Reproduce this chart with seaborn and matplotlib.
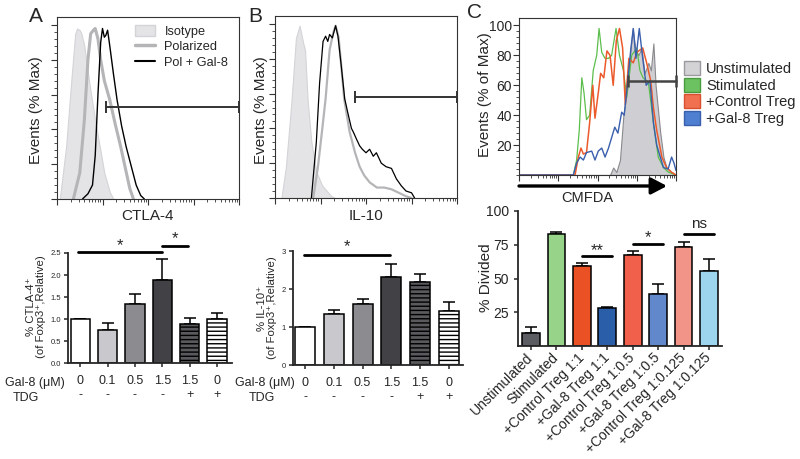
import numpy as np
import seaborn as sns
from matplotlib import pyplot as plt
from matplotlib.lines import Line2D
from matplotlib.patches import Patch

# ---- flow histograms: x in % of axis width (log scale), y in % of max ----
A_ISO_X = [1.5, 5, 8, 10, 11, 12.5, 13.4, 15, 18, 21, 23.5, 26, 29, 31]
A_ISO_Y = [0, 30, 70, 95, 98, 97, 95, 88, 65, 45, 30, 15, 4, 0]
A_POL_X = [9, 12.5, 15, 17, 18.5, 20, 21, 22.5, 24, 26, 29, 32, 35, 37.5, 40, 42]
A_POL_Y = [0, 15, 45, 80, 95, 97, 98, 92, 80, 68, 57, 43, 30, 18, 6, 0]
A_GAL_X = [14, 17, 19.5, 21, 22.5, 24, 25, 26, 26.8, 27.8, 29, 31, 33, 35.5, 38, 41, 43.5, 46, 48]
A_GAL_Y = [0, 3, 8, 25, 60, 90, 98, 93, 94, 97, 88, 72, 57, 42, 30, 18, 8, 2, 0]
A_GATE = (27, 100, 53)

B_ISO_X = [3.5, 6, 9, 11.5, 13.5, 15.5, 16.5, 18, 20, 22.7, 26, 31, 33]
B_ISO_Y = [0, 18, 55, 92, 99, 89, 85, 55, 32, 15, 7, 1, 0]
B_POL_X = [21, 23.6, 26, 27.8, 30, 32, 33.3, 35, 36.5, 38, 41, 44, 46.5, 49, 52, 56, 60, 64, 68, 72, 75]
B_POL_Y = [0, 18, 40, 57, 85, 95, 99, 92, 75, 57, 38, 26, 18, 13, 9, 6, 6, 5, 3, 1, 0]
B_GAL_X = [20, 22.7, 24.5, 26.4, 27.8, 29, 30, 31.5, 33.3, 34.6, 36.4, 38.3, 40, 42, 43, 44.7,
           46.5, 48, 50, 52, 54, 55.7, 58.4, 61, 64, 66.7, 69.4, 72, 75, 76.7]
B_GAL_Y = [0, 32, 66, 90, 93, 90, 94, 92, 99, 93, 76, 57, 49, 40, 38, 34,
           30, 28, 26, 28, 24, 26, 20, 18, 17, 11, 7, 4, 3, 0]
B_GATE = (44, 100, 58)

C_UNS_X = [0, 58, 60, 62, 64.3, 66.5, 68.6, 70.7, 72.4, 74, 76, 78, 80, 82.4, 84, 85.6, 87, 90, 92, 94, 97, 100]
C_UNS_Y = [0, 0, 5, 2, 10, 40, 55, 80, 98, 85, 80, 85, 68, 75, 70, 88, 60, 28, 12, 5, 2, 0]
C_STI_X = [0, 34.6, 36.7, 38.4, 40, 41.4, 43, 45, 47.3, 49.5, 51, 52.7, 54.8, 57, 59, 61.8, 64,
           66.5, 68.6, 71.8, 75, 77, 79, 82.4, 85.6, 88.7, 92, 95, 100]
C_STI_Y = [0, 0, 10, 30, 65, 55, 37, 40, 70, 80, 98, 82, 78, 78, 80, 98, 80,
           70, 52, 80, 85, 70, 65, 62, 35, 12, 5, 2, 0]
C_CON_X = [0, 35.7, 37.8, 39.5, 41, 43, 45, 47, 48.4, 50.5, 52, 54, 56, 58, 60, 62, 64, 66,
           67.7, 70, 72.8, 75, 78.8, 81.3, 83.9, 85.6, 87.7, 91, 94, 97, 100]
C_CON_Y = [0, 0, 12, 18, 14, 15, 35, 60, 38, 55, 68, 65, 83, 80, 60, 90, 98, 85,
           47, 78, 75, 82, 85, 75, 63, 45, 30, 12, 5, 2, 0]
C_GAL_X = [0, 34.6, 36.7, 38.9, 41, 43, 46.3, 48.4, 50.5, 52.7, 54.8, 57, 59, 61, 63, 65.4, 67,
           69, 71.3, 72.8, 74.5, 76.6, 78.8, 81, 83.4, 85.6, 87.7, 90, 92, 95, 97.2, 98.7, 100]
C_GAL_Y = [0, 0, 8, 12, 10, 15, 16, 10, 16, 18, 12, 18, 25, 32, 28, 42, 40,
           60, 85, 98, 78, 98, 78, 60, 63, 35, 20, 12, 5, 4, 12, 8, 3]
C_GATE = (69.6, 100, 63)

# ---- bar charts ----
A_LABELS = ["0\n-", "0.1\n-", "0.5\n-", "1.5\n-", "1.5\n+", "0\n+"]
A_VALUES = [1.0, 0.75, 1.34, 1.89, 0.88, 1.0]
A_SEM = [0.0, 0.17, 0.23, 0.47, 0.14, 0.13]
B_VALUES = [1.0, 1.33, 1.60, 2.32, 2.19, 1.43]
B_SEM = [0.0, 0.12, 0.15, 0.33, 0.20, 0.24]
AB_COLORS = ["white", "#c9c9cd", "#8c8c90", "#424246", "#5a5a5e", "white"]

C_LABELS = ["Unstimulated", "Stimulated", "+Control Treg 1:1", "+Gal-8 Treg 1:1",
            "+Control Treg 1:0.5", "+Gal-8 Treg 1:0.5", "+Control Treg 1:0.125", "+Gal-8 Treg 1:0.125"]
C_VALUES = [9.9, 82.7, 59.3, 28.4, 67.4, 38.5, 73.1, 55.6]
C_SEM = [3.9, 1.5, 1.9, 0.4, 3.0, 7.4, 4.2, 8.6]
C_COLORS = ["#5b5d62", "#98d38a", "#ea5124", "#2b5ea8", "#f0604a", "#6288cc", "#f29488", "#9dd5ee"]

W, H = 800, 459


def fx(x, y):
    return x / W, 1 - y / H


def axes_box(left, top, right, bottom):
    return [left / W, 1 - bottom / H, (right - left) / W, (bottom - top) / H]


def style_hist(ax, ytop):
    ax.set_xlim(0, 100)
    ax.set_ylim(0, ytop)
    for s in ax.spines.values():
        s.set_visible(True)
        s.set_linewidth(0.8)
        s.set_color("#333333")
    major = [0, 25, 50, 75, 100]
    minor = [d * 25 + 25 * np.log10(k) for d in range(4) for k in range(2, 10)]
    ax.set_xticks(major)
    ax.set_xticks(minor, minor=True)
    ax.set_xticklabels([])
    ax.set_yticks(range(0, 101, 20))
    ax.set_yticks(range(0, 101, 4), minor=True)
    ax.set_yticklabels([])
    ax.tick_params(which="major", length=4, width=0.8, color="#333333")
    ax.tick_params(which="minor", length=2, width=0.6, color="#333333")
    ax.set_xlabel("")
    ax.set_ylabel("")


def gate(ax, g, lw=1.4, color="#333333"):
    ax.plot([g[0], g[1]], [g[2], g[2]], color=color, lw=lw, marker="|",
            markersize=8, markeredgewidth=lw, clip_on=False, zorder=5)


def bars(ax, labels, values, sem, colors):
    sns.barplot(x=labels, y=values, hue=labels, palette=colors, legend=False,
                width=0.7, edgecolor="black", linewidth=1.1, saturation=1, ax=ax, zorder=2)
    ax.errorbar(range(len(values)), values, yerr=[np.zeros(len(values)), sem], fmt="none",
                ecolor="black", elinewidth=1.1, capsize=4, capthick=1.1, zorder=1)
    sns.despine(ax=ax)
    for s in ("left", "bottom"):
        ax.spines[s].set_linewidth(1.3)
    ax.tick_params(length=3, width=1.1)
    ax.set_xlabel("")
    ax.set_ylabel("")


def sig(ax, i, j, y, text, ty, size=12):
    ax.plot([i, j], [y, y], color="black", lw=2, clip_on=False)
    ax.text((i + j) / 2, ty, text, ha="center", va="center", fontsize=size, clip_on=False)


def main():
    sns.set_style("ticks")
    plt.rcParams["font.family"] = ["Liberation Sans", "DejaVu Sans"]
    plt.rcParams["hatch.linewidth"] = 1.0
    fig = plt.figure(figsize=(8, 4.59), dpi=100)

    iso_face, iso_edge = "#e4e4e7", "#d4d4d8"
    pol_color = "#b5b5b8"

    # ---- A histogram ----
    ax = fig.add_axes(axes_box(57, 17, 239, 199))
    ax.fill_between(A_ISO_X, A_ISO_Y, color=iso_face, edgecolor=iso_edge, lw=0.8)
    sns.lineplot(x=A_POL_X, y=A_POL_Y, color=pol_color, lw=2.2, sort=False, estimator=None, ax=ax)
    sns.lineplot(x=A_GAL_X, y=A_GAL_Y, color="black", lw=1.0, sort=False, estimator=None, ax=ax)
    gate(ax, A_GATE)
    style_hist(ax, 104.6)
    handles = [Patch(facecolor=iso_face, edgecolor=iso_edge),
               Line2D([], [], color=pol_color, lw=2.5),
               Line2D([], [], color="black", lw=1.5)]
    ax.legend(handles, ["Isotype", "Polarized", "Pol + Gal-8"], loc="upper left",
              bbox_to_anchor=fx(135, 25), bbox_transform=fig.transFigure, frameon=False,
              fontsize=9.2, handlelength=1.6, handleheight=1.0, handletextpad=0.7,
              labelspacing=0.17, borderpad=0, borderaxespad=0)
    fig.text(*fx(36, 17), "A", fontsize=15, ha="center", va="center")
    fig.text(*fx(148, 216), "CTLA-4", fontsize=11, ha="center", va="center")
    fig.text(*fx(36, 110), "Events (% Max)", fontsize=11, ha="center", va="center", rotation=90)

    # ---- B histogram ----
    ax = fig.add_axes(axes_box(275, 16, 457, 198))
    ax.fill_between(B_ISO_X, B_ISO_Y, color=iso_face, edgecolor=iso_edge, lw=0.8)
    sns.lineplot(x=B_POL_X, y=B_POL_Y, color=pol_color, lw=1.6, sort=False, estimator=None, ax=ax)
    sns.lineplot(x=B_GAL_X, y=B_GAL_Y, color="black", lw=0.9, sort=False, estimator=None, ax=ax)
    gate(ax, B_GATE)
    style_hist(ax, 104.6)
    fig.text(*fx(255, 17), "B", fontsize=15, ha="center", va="center")
    fig.text(*fx(366, 216), "IL-10", fontsize=11, ha="center", va="center")
    fig.text(*fx(261, 110), "Events (% Max)", fontsize=11, ha="center", va="center", rotation=90)

    # ---- C histogram ----
    ax = fig.add_axes(axes_box(519, 18, 676, 175))
    ax.fill_between(C_UNS_X, C_UNS_Y, color="#cfcfd3", edgecolor="#8a8a8e", lw=0.8)
    sns.lineplot(x=C_STI_X, y=C_STI_Y, color="#5cbf4c", lw=0.9, sort=False, estimator=None, ax=ax)
    sns.lineplot(x=C_CON_X, y=C_CON_Y, color="#ec5a2c", lw=1.1, sort=False, estimator=None, ax=ax)
    sns.lineplot(x=C_GAL_X, y=C_GAL_Y, color="#3a5fad", lw=1.0, sort=False, estimator=None, ax=ax)
    gate(ax, C_GATE, lw=1.8, color="#444444")
    style_hist(ax, 105)
    ax.set_yticks(range(20, 101, 20))
    ax.set_yticklabels([str(v) for v in range(20, 101, 20)], fontsize=10)
    ax.tick_params(axis="y", pad=1)
    handles = [Patch(facecolor="#d3d3d6", edgecolor="#9a9a9e"),
               Patch(facecolor="#6cc160", edgecolor="#4a9a40"),
               Patch(facecolor="#f0704f", edgecolor="#d85030"),
               Patch(facecolor="#4f7fd0", edgecolor="#3a5fad")]
    fig.legend(handles, ["Unstimulated", "Stimulated", "+Control Treg", "+Gal-8 Treg"],
               loc="upper left", bbox_to_anchor=fx(684, 61), frameon=False, fontsize=10.5,
               handlelength=1.1, handleheight=1.1, handletextpad=0.4, labelspacing=0.12,
               borderpad=0, borderaxespad=0)
    ax.annotate("", xy=fx(667, 186), xytext=fx(519, 186), xycoords="figure fraction",
                textcoords="figure fraction",
                arrowprops=dict(arrowstyle="-|>,head_length=0.95,head_width=0.5", lw=2.4,
                                color="black", mutation_scale=10, shrinkA=0, shrinkB=0))
    fig.text(*fx(474, 13), "C", fontsize=15, ha="center", va="center")
    fig.text(*fx(587, 198), "CMFDA", fontsize=10.5, ha="center", va="center")
    fig.text(*fx(485, 95), "Events (% of Max)", fontsize=11, ha="center", va="center", rotation=90)

    # ---- A bars ----
    ax = fig.add_axes(axes_box(68, 253, 232, 363))
    bars(ax, A_LABELS, A_VALUES, A_SEM, AB_COLORS)
    ax.patches[4].set_hatch("----")
    ax.patches[5].set_hatch("----")
    ax.set_xlim(-0.45, 5.55)
    ax.set_ylim(0, 2.5)
    ax.set_yticks(np.arange(0, 2.51, 0.5))
    ax.set_yticklabels([f"{v:.1f}" for v in np.arange(0, 2.51, 0.5)], fontsize=5.5)
    ax.tick_params(axis="y", pad=2)
    ax.tick_params(axis="x", labelsize=9, pad=5.5)
    sig(ax, -0.1, 3, 2.52, "*", 2.66)
    sig(ax, 3, 3.95, 2.66, "*", 2.82)
    fig.text(*fx(35, 383), "Gal-8 (μM)", fontsize=9, ha="center", va="center")
    fig.text(*fx(26, 398), "TDG", fontsize=9, ha="center", va="center")
    fig.text(*fx(36, 307), "% CTLA-4⁺\n(of Foxp3⁺,Relative)", fontsize=8.2, ha="center",
             va="center", rotation=90, linespacing=1.05)

    # ---- B bars ----
    ax = fig.add_axes(axes_box(293, 251, 463, 365))
    bars(ax, A_LABELS, B_VALUES, B_SEM, AB_COLORS)
    ax.patches[4].set_hatch("----")
    ax.patches[5].set_hatch("----")
    ax.set_xlim(-0.42, 5.49)
    ax.set_ylim(0, 3)
    ax.set_yticks([0, 1, 2, 3])
    ax.set_yticklabels(["0", "1", "2", "3"], fontsize=5.5)
    ax.tick_params(axis="y", pad=2)
    ax.tick_params(axis="x", labelsize=9, pad=5.5)
    sig(ax, -0.05, 2.95, 2.89, "*", 3.12)
    fig.text(*fx(265, 383), "Gal-8 (μM)", fontsize=9, ha="center", va="center")
    fig.text(*fx(262, 398), "TDG", fontsize=9, ha="center", va="center")
    fig.text(*fx(267, 308), "% IL-10⁺\n(of Foxp3⁺,Relative)", fontsize=8.2, ha="center",
             va="center", rotation=90, linespacing=1.05)

    # ---- C bars ----
    ax = fig.add_axes(axes_box(518, 211, 722, 346))
    bars(ax, C_LABELS, C_VALUES, C_SEM, C_COLORS)
    ax.set_xlim(-0.51, 7.51)
    ax.set_ylim(0, 100)
    ax.set_yticks([25, 50, 75, 100])
    ax.set_yticklabels(["25", "50", "75", "100"], fontsize=10)
    ax.set_xticks(range(len(C_LABELS)))
    ax.set_xticklabels(C_LABELS, rotation=45, ha="right", va="center",
                       rotation_mode="anchor", fontsize=10)
    ax.tick_params(axis="x", pad=4)
    sig(ax, 2, 3.2, 66.7, "**", 71)
    sig(ax, 4, 5.2, 75.5, "*", 80)
    sig(ax, 6, 7.2, 83, "ns", 90, size=11)
    fig.text(*fx(486, 278), "% Divided", fontsize=11, ha="center", va="center", rotation=90)

    fig.savefig("out.png", dpi=100)


if __name__ == "__main__":
    main()
